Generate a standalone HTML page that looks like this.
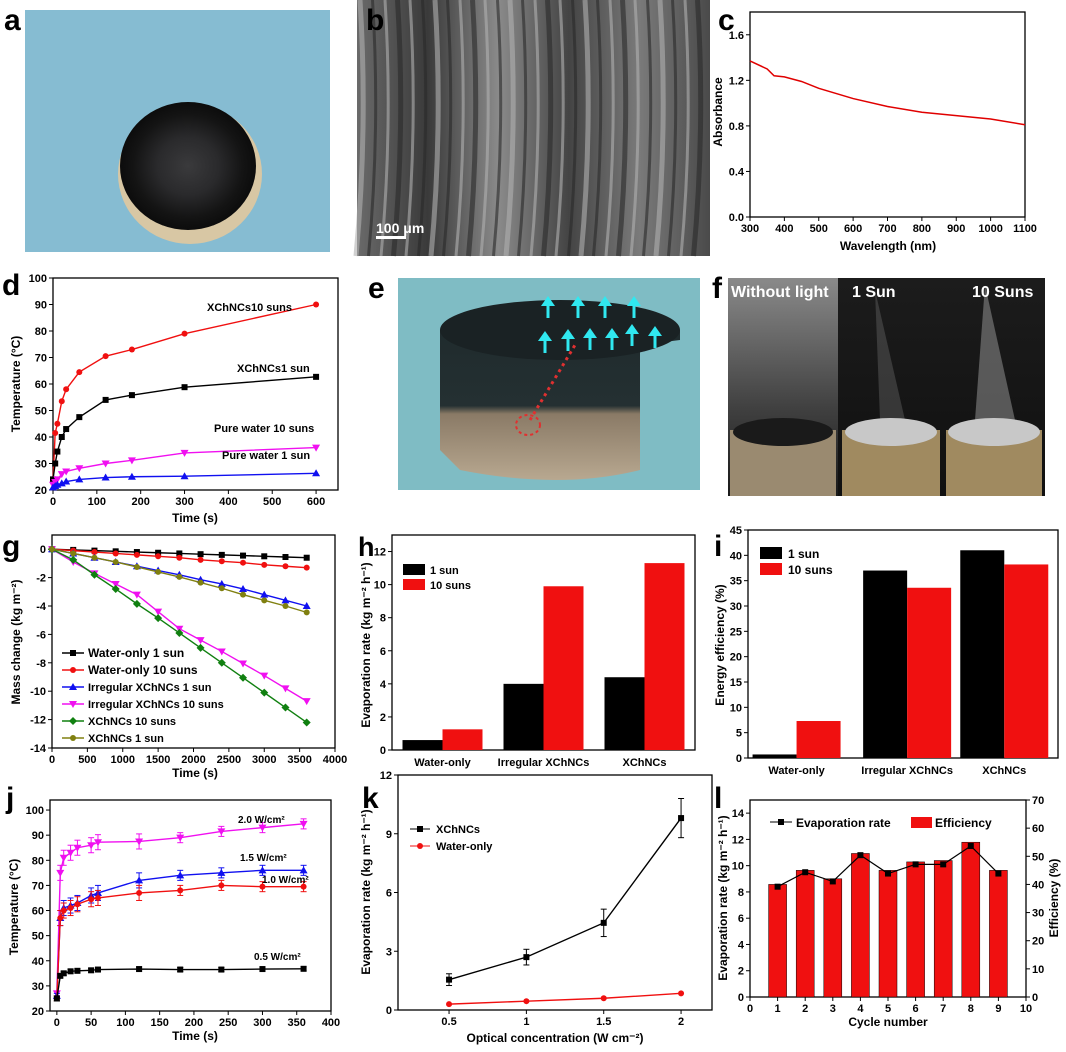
<!DOCTYPE html>
<html><head><meta charset="utf-8"><style>
body{margin:0;background:#fff}
svg{display:block;font-family:"Liberation Sans",Arial,sans-serif}
text{font-weight:bold}
</style></head><body>
<svg id="fig" width="1066" height="1052" viewBox="0 0 1066 1052" xmlns="http://www.w3.org/2000/svg">
<defs>
<radialGradient id="disc" cx="50%" cy="50%" r="50%"><stop offset="0" stop-color="#3a3a3c"/><stop offset="0.45" stop-color="#2a2a2c"/><stop offset="0.8" stop-color="#141414"/><stop offset="1" stop-color="#0c0c0c"/></radialGradient>
<linearGradient id="sem" x1="0" x2="1"><stop offset="0" stop-color="#6a6a6a"/><stop offset="0.2" stop-color="#3a3a3a"/><stop offset="0.4" stop-color="#8a8a8a"/><stop offset="0.6" stop-color="#444"/><stop offset="0.8" stop-color="#7a7a7a"/><stop offset="1" stop-color="#4a4a4a"/></linearGradient>
<linearGradient id="cyl" x1="0" y1="0" x2="0" y2="1"><stop offset="0" stop-color="#1f2a2c"/><stop offset="0.55" stop-color="#243032"/><stop offset="0.6" stop-color="#8a7a66"/><stop offset="1" stop-color="#b8a890"/></linearGradient>
<linearGradient id="fbg" x1="0" y1="0" x2="0" y2="1"><stop offset="0" stop-color="#8a8a8a"/><stop offset="0.6" stop-color="#404040"/><stop offset="1" stop-color="#1a1a1a"/></linearGradient>
<linearGradient id="fbg2" x1="0" y1="0" x2="0" y2="1"><stop offset="0" stop-color="#1c1c1c"/><stop offset="1" stop-color="#101010"/></linearGradient>
</defs>
<!-- panel a -->
<rect x="25" y="10" width="305" height="242" fill="#86bcd2"/>
<ellipse cx="190" cy="174" rx="72" ry="70" fill="#d8c7a4"/>
<ellipse cx="188" cy="166" rx="68" ry="64" fill="url(#disc)"/>
<!-- panel b -->
<rect x="357" y="0" width="353" height="256" fill="url(#sem)"/>
<g id="semstripes"></g>
<rect x="376" y="236" width="30" height="3" fill="#fff"/>
<text x="376" y="233" fill="#fff" font-size="14">100 μm</text>
<!-- panel e -->
<rect x="398" y="278" width="302" height="212" fill="#7fbcc4"/>
<path d="M440 330 Q560 300 680 330 L680 340 L640 345 L640 470 Q560 490 460 470 L440 450 Z" fill="url(#cyl)"/>
<ellipse cx="560" cy="330" rx="120" ry="30" fill="#1a2224"/>
<g id="arrows"></g>
<line x1="530" y1="420" x2="575" y2="345" stroke="#e03030" stroke-width="3" stroke-dasharray="3,4"/>
<ellipse cx="528" cy="425" rx="12" ry="10" fill="none" stroke="#e03030" stroke-width="2" stroke-dasharray="3,3"/>
<!-- panel f -->
<rect x="728" y="278" width="110" height="218" fill="url(#fbg)"/>
<rect x="838" y="278" width="104" height="218" fill="url(#fbg2)"/>
<rect x="942" y="278" width="103" height="218" fill="url(#fbg2)"/>
<path d="M875 290 L905 420 L880 420 Z" fill="#777" opacity="0.35"/>
<path d="M985 285 L1015 420 L975 420 Z" fill="#aaa" opacity="0.45"/>
<rect x="730" y="430" width="106" height="66" fill="#9a8a70"/>
<ellipse cx="783" cy="432" rx="50" ry="14" fill="#1a1a1a"/>
<rect x="842" y="430" width="98" height="66" fill="#a08a60"/>
<ellipse cx="891" cy="432" rx="46" ry="14" fill="#c8c8c8"/>
<rect x="946" y="430" width="96" height="66" fill="#a08a60"/>
<ellipse cx="994" cy="432" rx="46" ry="14" fill="#c8c8c8"/>
<text x="731" y="297" fill="#fff" font-size="16">Without light</text>
<text x="852" y="297" fill="#fff" font-size="16">1 Sun</text>
<text x="972" y="297" fill="#fff" font-size="16">10 Suns</text>
<g id="charts"></g>
<g font-size="30">
<text x="4" y="30">a</text><text x="366" y="30">b</text><text x="718" y="30">c</text>
<text x="2" y="295">d</text><text x="368" y="298">e</text><text x="712" y="298">f</text>
<text x="2" y="556">g</text><text x="358" y="556" font-size="27">h</text><text x="714" y="556">i</text>
<text x="6" y="808">j</text><text x="362" y="808">k</text><text x="714" y="808">l</text>
</g>
</svg>
<script>
// ---- data ----
const cWave=[300,350,370,400,450,500,600,700,800,900,1000,1100];
const cAbs=[1.37,1.3,1.24,1.23,1.19,1.13,1.04,0.97,0.92,0.89,0.86,0.81];
const dTime=[0,5,10,20,30,60,120,180,300,600];
const dX10=[24,41.5,45,53.5,58,64.5,70.5,73,79,90];
const dX1=[24,30,34.5,40,43,47.5,54,55.8,58.8,62.7];
const dW10=[22,23,24,26,27,28.2,30,31.2,34,36];
const dW1=[21,21.5,22,22.5,23.2,24,24.7,25,25.2,26.3];
const gTime=[0,300,600,900,1200,1500,1800,2100,2400,2700,3000,3300,3600];
const gW1=[0,-0.05,-0.1,-0.15,-0.2,-0.25,-0.3,-0.35,-0.4,-0.45,-0.5,-0.55,-0.6];
const gW10=[0,-0.1,-0.2,-0.3,-0.4,-0.5,-0.6,-0.75,-0.85,-0.95,-1.1,-1.2,-1.3];
const gI1=[0,-0.3,-0.6,-0.9,-1.2,-1.5,-1.8,-2.15,-2.45,-2.8,-3.2,-3.6,-4.0];
const gI10=[0,-0.9,-1.7,-2.45,-3.2,-4.4,-5.6,-6.4,-7.2,-8.05,-8.9,-9.8,-10.7];
const gX10=[0,-0.75,-1.8,-2.8,-3.85,-4.85,-5.9,-6.95,-8.0,-9.05,-10.1,-11.15,-12.2];
const gX1=[0,-0.3,-0.6,-0.9,-1.25,-1.6,-1.95,-2.35,-2.75,-3.2,-3.6,-4.0,-4.45];
const barCats=["Water-only","Irregular XChNCs","XChNCs"];
const hSun1=[0.6,4.0,4.4];
const hSun10=[1.25,9.9,11.3];
const iSun1=[0.7,37,41];
const iSun10=[7.3,33.6,38.2];
const jTime=[0,5,10,20,30,50,60,120,180,240,300,360];
const j20=[27,75,81,83,85,86,87.2,87.5,89,91.5,93,94.5];
const j15=[26,57,61,62,63,66,67,72,74,75,76,76];
const j10=[25,57,60,61,62.5,64.5,65,67,68,70,69.5,69.5];
const j05=[25,34,35,35.8,36,36.2,36.5,36.7,36.5,36.5,36.7,36.8];
const kConc=[0.5,1,1.5,2];
const kX=[1.55,2.7,4.45,9.8];
const kXerr=[0.3,0.4,0.7,1.0];
const kW=[0.3,0.45,0.6,0.85];
const lCycle=[1,2,3,4,5,6,7,8,9];
const lRate=[8.4,9.5,8.8,10.8,9.4,10.1,10.1,11.5,9.4];
const lEff=[40,45,42,51,45,48,48.5,55,45];

// ---- helpers ----
const NS="http://www.w3.org/2000/svg";
const root=document.getElementById('charts');
function el(tag,attrs,parent,txt){const e=document.createElementNS(NS,tag);for(const k in attrs)e.setAttribute(k,attrs[k]);if(txt!==undefined)e.textContent=txt;(parent||root).appendChild(e);return e;}
function lin(d0,d1,r0,r1){return v=>r0+(v-d0)/(d1-d0)*(r1-r0);}
function axes(name,b,dx,dy,xt,yt,opt){
  opt=opt||{};
  const g=el('g',{});
  
  
  const X=lin(dx[0],dx[1],b.l,b.r),Y=lin(dy[0],dy[1],b.b,b.t);
  el('rect',{x:b.l,y:b.t,width:b.r-b.l,height:b.b-b.t,fill:'none',stroke:'#000','stroke-width':1.3},g);
  if(xt) xt.forEach(v=>{const x=X(v);el('line',{x1:x,x2:x,y1:b.b,y2:b.b+4,stroke:'#000'},g);
    el('text',{x:x,y:b.b+15,'font-size':11,'text-anchor':'middle'},g,opt.xf?opt.xf(v):v);});
  if(yt) yt.forEach(v=>{const y=Y(v);el('line',{x1:b.l-4,x2:b.l,y1:y,y2:y,stroke:'#000'},g);
    el('text',{x:b.l-6,y:y+4,'font-size':11,'text-anchor':'end'},g,opt.yf?opt.yf(v):v);});
  return {X,Y,g};
}
function marker(g,type,x,y,c,s){s=s||3;
  if(type==='sq')el('rect',{x:x-s,y:y-s,width:2*s,height:2*s,fill:c},g);
  else if(type==='up')el('polygon',{points:`${x},${y-s-1} ${x-s-1},${y+s} ${x+s+1},${y+s}`,fill:c},g);
  else if(type==='dn')el('polygon',{points:`${x},${y+s+1} ${x-s-1},${y-s} ${x+s+1},${y-s}`,fill:c},g);
  else if(type==='di')el('polygon',{points:`${x},${y-s-1} ${x+s+1},${y} ${x},${y+s+1} ${x-s-1},${y}`,fill:c},g);
  else if(type!=='none')el('circle',{cx:x,cy:y,r:s,fill:c},g);}
function series(name,A,xs,ys,c,m,w){
  const g=el('g',{});
  
  
  el('polyline',{points:xs.map((x,i)=>A.X(x)+','+A.Y(ys[i])).join(' '),fill:'none',stroke:c,'stroke-width':w||1.4},g);
  xs.forEach((x,i)=>marker(g,m,A.X(x),A.Y(ys[i]),c));
  return g;}
function txt(name,x,y,s,size,opt){opt=opt||{};const t=el('text',Object.assign({x:x,y:y,'font-size':size},opt),root,s);
  
  return t;}
function vtitle(name,x,y,s,size){return txt(name,0,0,s,size,{'text-anchor':'middle',transform:`translate(${x},${y}) rotate(-90)`});}
function range(a,b,s){const r=[];for(let v=a;v<=b+1e-9;v+=s)r.push(+v.toFixed(2));return r;}

(function(){const g=document.getElementById('semstripes');
 for(let i=0;i<28;i++){const x=360+i*12.5;el('path',{d:`M${x} 0 Q${x+8} 128 ${x-4} 256`,stroke:i%2?'#2a2a2a':'#b0b0b0','stroke-width':i%3?3:5,fill:'none',opacity:0.6},g);}
 const a=document.getElementById('arrows');
 [[548,300],[578,300],[605,300],[634,300],[545,335],[568,333],[590,332],[612,332],[632,328],[655,330]].forEach(p=>{
  el('line',{x1:p[0],y1:p[1]+18,x2:p[0],y2:p[1]+4,stroke:'#30e8f0','stroke-width':3},a);
  el('polygon',{points:`${p[0]},${p[1]-4} ${p[0]-7},${p[1]+6} ${p[0]+7},${p[1]+6}`,fill:'#30e8f0'},a);});
})();

// ---- c ----
let A=axes('chart-c-axes',{l:750,r:1025,t:12,b:217},[300,1100],[0,1.8],range(300,1100,100),range(0,1.6,0.4),{yf:v=>v.toFixed(1)});
series('absorbance-line',A,cWave,cAbs,'#e00000','none',1.5);
vtitle('c-y-title',722,112,'Absorbance',12);
txt('c-x-title',888,250,'Wavelength (nm)',12,{'text-anchor':'middle'});

// ---- d ----
A=axes('chart-d-axes',{l:53,r:338,t:278,b:490},[0,650],[20,100],range(0,600,100),range(20,100,10));
series('d-xchncs-10-suns',A,dTime,dX10,'#f01010','ci');
series('d-xchncs-1-sun',A,dTime,dX1,'#000','sq');
series('d-water-10-suns',A,dTime,dW10,'#f010f0','dn');
series('d-water-1-sun',A,dTime,dW1,'#1010f0','up');
txt('d-label-1',207,311,'XChNCs10 suns',11,{});
txt('d-label-2',237,372,'XChNCs1 sun',11,{});
txt('d-label-3',214,432,'Pure water 10 suns',11,{});
txt('d-label-4',222,459,'Pure water 1 sun',11,{});
vtitle('d-y-title',20,384,'Temperature (°C)',12);
txt('d-x-title',195,522,'Time (s)',12,{'text-anchor':'middle'});

// ---- g ----
A=axes('chart-g-axes',{l:52,r:335,t:535,b:748},[0,4000],[-14,1],range(0,4000,500),range(-14,0,2));
const gS=[['g-water-1-sun',gW1,'#000','sq','Water-only 1 sun'],['g-water-10-suns',gW10,'#f01010','ci','Water-only 10 suns'],['g-irr-1-sun',gI1,'#1010f0','up','Irregular XChNCs 1 sun'],['g-irr-10-suns',gI10,'#f010f0','dn','Irregular XChNCs 10 suns'],['g-xch-10-suns',gX10,'#108010','di','XChNCs 10 suns'],['g-xch-1-sun',gX1,'#808010','ci','XChNCs 1 sun']];
gS.forEach((s,i)=>{series(s[0],A,gTime,s[1],s[2],s[3]);
 const y=653+i*17;el('line',{x1:62,x2:84,y1:y,y2:y,stroke:s[2],'stroke-width':1.5});marker(root,s[3],73,y,s[2]);
 txt(s[0]+'-legend',88,y+4,s[4],i<2?12:11,{});});
vtitle('g-y-title',20,642,'Mass change (kg m⁻²)',12);
txt('g-x-title',195,777,'Time (s)',12,{'text-anchor':'middle'});

// ---- bar charts ----
function bars(prefix,A,cx,v1,v10,w){
 cx.forEach((c,i)=>{
  const r1=el('rect',{x:c-w,y:A.Y(v1[i]),width:w,height:A.Y(0)-A.Y(v1[i]),fill:'#000'});
  
  
  const r2=el('rect',{x:c,y:A.Y(v10[i]),width:w,height:A.Y(0)-A.Y(v10[i]),fill:'#f01010'});
  
  
 });}
// h
A=axes('chart-h-axes',{l:392,r:695,t:535,b:750},[0,3],[0,13],null,range(0,12,2));
let hc=[0.5,1.5,2.5];
bars('h-bar',A,hc.map(A.X),hSun1,hSun10,40);
barCats.forEach((c,i)=>txt('h-cat-'+i,A.X(hc[i]),766,c,11,{'text-anchor':'middle'}));
el('rect',{x:403,y:564,width:22,height:11,fill:'#000'});el('rect',{x:403,y:579,width:22,height:11,fill:'#f01010'});
txt('h-legend-1',430,574,'1 sun',11,{});txt('h-legend-10',430,589,'10 suns',11,{});
vtitle('h-y-title',370,645,'Evaporation rate (kg m⁻² h⁻¹)',12);
// i
A=axes('chart-i-axes',{l:748,r:1058,t:530,b:758},[0,3],[0,45],null,range(0,45,5));
let ic=[0.47,1.54,2.48];
bars('i-bar',A,ic.map(A.X),iSun1,iSun10,44);
barCats.forEach((c,i)=>txt('i-cat-'+i,A.X(ic[i]),774,c,11,{'text-anchor':'middle'}));
el('rect',{x:760,y:547,width:22,height:12,fill:'#000'});el('rect',{x:760,y:563,width:22,height:12,fill:'#f01010'});
txt('i-legend-1',788,558,'1 sun',12,{});txt('i-legend-10',788,574,'10 suns',12,{});
vtitle('i-y-title',724,645,'Energy efficiency (%)',12);

// ---- j ----
A=axes('chart-j-axes',{l:50,r:331,t:800,b:1011},[-10,400],[20,104],range(0,400,50),range(20,100,10));
[['j-2-0',j20,'#f010f0','dn'],['j-1-5',j15,'#1010f0','up'],['j-1-0',j10,'#f01010','ci'],['j-0-5',j05,'#000','sq']].forEach(s=>{
 const g=series(s[0],A,jTime,s[1],s[2],s[3]);
 jTime.forEach((t,i)=>{const e=i===0?1:(s[0]==='j-0-5'?0.8:(i<8?3:2));const x=A.X(t);
  el('line',{x1:x,x2:x,y1:A.Y(s[1][i]-e),y2:A.Y(s[1][i]+e),stroke:s[2]},g);
  el('line',{x1:x-3,x2:x+3,y1:A.Y(s[1][i]+e),y2:A.Y(s[1][i]+e),stroke:s[2]},g);
  el('line',{x1:x-3,x2:x+3,y1:A.Y(s[1][i]-e),y2:A.Y(s[1][i]-e),stroke:s[2]},g);});});
txt('j-label-20',238,823,'2.0 W/cm²',10,{});
txt('j-label-15',240,861,'1.5 W/cm²',10,{});
txt('j-label-10',262,883,'1.0 W/cm²',10,{});
txt('j-label-05',254,960,'0.5 W/cm²',10,{});
vtitle('j-y-title',18,907,'Temperature (°C)',12);
txt('j-x-title',195,1040,'Time (s)',12,{'text-anchor':'middle'});

// ---- k ----
A=axes('chart-k-axes',{l:398,r:712,t:775,b:1010},[0.17,2.2],[0,12],[0.5,1,1.5,2],[0,3,6,9,12]);
let kg=series('k-xchncs',A,kConc,kX,'#000','sq');
kConc.forEach((c,i)=>{const x=A.X(c);el('line',{x1:x,x2:x,y1:A.Y(kX[i]-kXerr[i]),y2:A.Y(kX[i]+kXerr[i]),stroke:'#000'},kg);
 [kX[i]-kXerr[i],kX[i]+kXerr[i]].forEach(v=>el('line',{x1:x-3,x2:x+3,y1:A.Y(v),y2:A.Y(v),stroke:'#000'},kg));});
series('k-water',A,kConc,kW,'#f01010','ci');
el('line',{x1:410,x2:430,y1:829,y2:829,stroke:'#000'});marker(root,'sq',420,829,'#000');
el('line',{x1:410,x2:430,y1:846,y2:846,stroke:'#f01010'});marker(root,'ci',420,846,'#f01010');
txt('k-legend-1',436,833,'XChNCs',11,{'font-weight':'normal'});txt('k-legend-2',436,850,'Water-only',11,{'font-weight':'normal'});
vtitle('k-y-title',370,892,'Evaporation rate (kg m⁻² h⁻¹)',12);
txt('k-x-title',555,1042,'Optical concentration (W cm⁻²)',12,{'text-anchor':'middle'});

// ---- l ----
A=axes('chart-l-axes',{l:750,r:1026,t:800,b:997},[0,10],[0,15],range(0,10,1),range(0,14,2));
const YR=lin(0,70,997,800);
range(0,70,10).forEach(v=>{el('line',{x1:1026,x2:1030,y1:YR(v),y2:YR(v),stroke:'#000'});txt('l-right-tick-'+v,1032,YR(v)+4,String(v),11,{});});
lCycle.forEach((c,i)=>{const r=el('rect',{x:A.X(c)-9,y:YR(lEff[i]),width:18,height:997-YR(lEff[i]),fill:'#f01010',stroke:'#000','stroke-width':0.5});
 
 });
series('l-rate-line',A,lCycle,lRate,'#000','sq',1.2);
el('line',{x1:770,x2:792,y1:822,y2:822,stroke:'#000'});marker(root,'sq',781,822,'#000');
txt('l-legend-1',796,827,'Evaporation rate',12,{});
el('rect',{x:911,y:817,width:21,height:11,fill:'#f01010'});
txt('l-legend-2',935,827,'Efficiency',12,{});
vtitle('l-y-title',727,898,'Evaporation rate (kg m⁻² h⁻¹)',12);
vtitle('l-y2-title',1058,898,'Efficiency (%)',12);
txt('l-x-title',888,1026,'Cycle number',12,{'text-anchor':'middle'});
</script>
</body></html>
